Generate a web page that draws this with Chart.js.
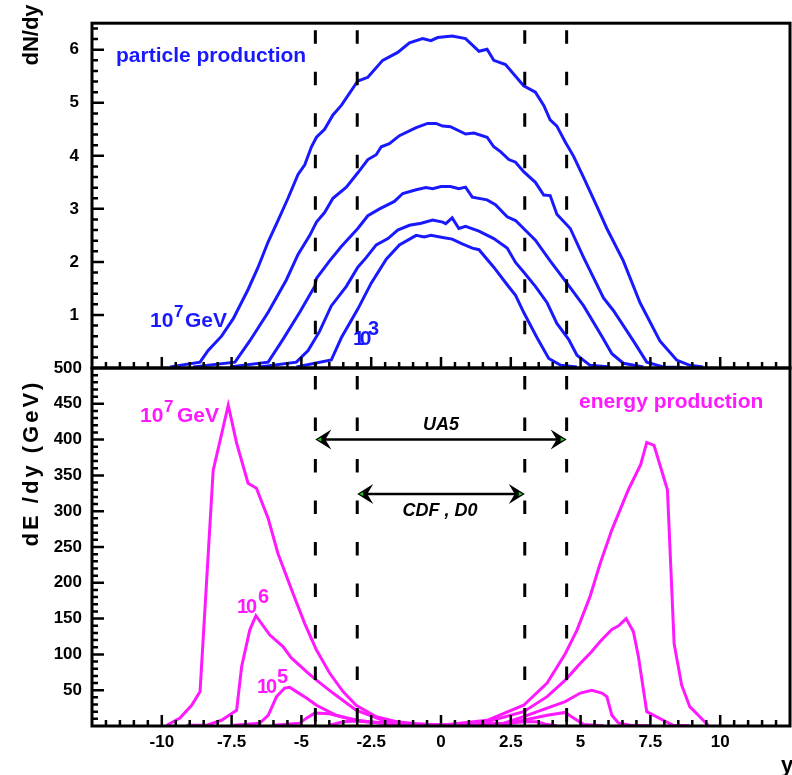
<!DOCTYPE html>
<html lang="en">
<head>
<meta charset="UTF-8">
<title>dN/dy - dE/dy</title>
<script src="https://cdn.jsdelivr.net/npm/chart.js"></script>
<style>
  body { margin: 0; background: #fff; }
  #wrap { position: relative; width: 792px; height: 775px; }
  canvas { position: absolute; left: 0; top: 0; }
</style>
</head>
<body>
<div id="wrap">
  <canvas id="topChart" width="792" height="775"></canvas>
  <canvas id="botChart" width="792" height="775"></canvas>
</div>

<script>
// ---- particle production dN/dy (top panel) ----
const yN7 = [-9.7,-8.63,-8.34,-7.86,-7.44,-6.91,-6.55,-6.19,-5.84,-5.48,-5.12,-4.88,-4.64,-4.46,-4.17,-3.87,-3.57,-2.98,-2.62,-2.09,-1.55,-1.13,-0.66,-0.36,-0.12,0.40,0.88,1.36,1.65,1.89,2.31,2.67,2.96,3.38,3.68,3.91,4.15,4.45,4.75,5.11,5.58,5.94,6.53,7.13,7.84,8.44,8.91,9.39]
const dN7 = [0.02,0.11,0.33,0.60,0.93,1.48,1.90,2.38,2.78,3.20,3.65,3.83,4.17,4.35,4.50,4.77,4.95,5.41,5.48,5.80,5.95,6.13,6.21,6.17,6.23,6.26,6.21,5.97,6.01,5.80,5.72,5.50,5.32,5.20,4.95,4.68,4.56,4.26,3.99,3.59,3.05,2.63,2.02,1.23,0.51,0.15,0.05,0.02]
const yN6 = [-8.87,-7.38,-6.85,-6.19,-5.54,-5.12,-4.70,-4.46,-4.17,-3.87,-3.39,-2.98,-2.62,-2.32,-2.14,-1.85,-1.49,-0.89,-0.48,-0.18,0.06,0.34,0.88,1.18,1.65,1.89,2.13,2.43,2.67,2.96,3.38,3.68,3.91,4.15,4.63,5.11,5.82,6.18,6.89,7.37,7.96,8.68]
const dN6 = [0.02,0.11,0.51,1.05,1.66,2.14,2.50,2.75,2.93,3.20,3.41,3.68,3.93,4.02,4.17,4.23,4.38,4.53,4.61,4.61,4.56,4.55,4.41,4.43,4.35,4.17,4.08,3.93,3.88,3.70,3.50,3.26,3.25,2.90,2.63,2.08,1.32,1.08,0.51,0.11,0.02,0.01]
const yN5 = [-7.56,-6.19,-5.66,-5.06,-4.52,-4.46,-3.99,-3.57,-2.98,-2.62,-2.20,-1.67,-1.37,-0.89,-0.54,-0.30,0.0,0.34,0.64,0.88,1.12,1.65,1.95,2.37,2.67,3.38,3.91,4.51,5.11,5.76,6.12,6.53,7.25]
const dN5 = [0.02,0.11,0.54,1.05,1.54,1.69,2.02,2.29,2.63,2.87,3.00,3.14,3.29,3.36,3.40,3.38,3.42,3.42,3.38,3.41,3.22,3.17,3.08,2.85,2.78,2.41,2.02,1.60,1.17,0.60,0.27,0.09,0.02]
const yN4 = [-6.49,-5.18,-4.76,-4.35,-3.93,-3.39,-2.98,-2.68,-2.32,-1.90,-1.55,-1.13,-0.71,-0.30,0.06,0.17,0.40,0.64,0.88,1.36,1.89,2.37,2.67,2.96,3.38,3.80,4.15,4.57,4.87,5.34,6.06]
const dN4 = [0.02,0.11,0.33,0.69,1.17,1.54,1.90,2.08,2.32,2.44,2.60,2.69,2.73,2.79,2.75,2.72,2.83,2.63,2.67,2.58,2.44,2.26,1.99,1.81,1.54,1.23,0.84,0.54,0.24,0.05,0.02]
const yN3 = [-5.18,-3.93,-3.57,-2.98,-2.50,-1.96,-1.49,-0.89,-0.60,-0.36,0.06,0.40,0.76,1.12,1.36,1.89,2.37,2.67,2.96,3.44,3.86,4.29,4.87]
const dN3 = [0.02,0.15,0.57,1.11,1.60,2.05,2.32,2.50,2.47,2.50,2.46,2.43,2.34,2.26,2.23,1.90,1.57,1.37,1.05,0.57,0.18,0.05,0.02]

// ---- energy production dE/dy in GeV (bottom panel) ----
const yE7 = [-9.82,-9.35,-8.93,-8.63,-8.16,-7.62,-7.32,-6.91,-6.61,-6.19,-5.84,-5.30,-4.88,-4.46,-3.99,-3.51,-3.04,-2.32,-1.37,0,1.65,2.96,3.80,4.45,4.87,5.34,5.70,6.12,6.71,7.15,7.37,7.63,8.11,8.35,8.62,8.91,9.27,9.57]
const dE7 = [1,11,29,48,357,448,395,339,332,290,241,185,143,106,74,48,29,13,4,1,8,29,60,101,134,181,227,274,330,365,396,392,330,115,57,27,13,1]
const yE6 = [-9.11,-8.39,-7.86,-7.32,-7.14,-6.85,-6.63,-6.13,-5.66,-5.36,-4.82,-4.46,-3.87,-3.04,-2.09,-0.89,0.1,1.65,2.96,3.80,4.45,4.93,5.40,5.70,6.12,6.36,6.63,6.89,7.07,7.37,7.96,8.32,8.91]
const dE6 = [1,1,8,22,83,134,154,127,111,95,76,64,46,22,8,3,1,6,20,41,64,85,104,118,135,140,150,132,97,20,8,1,0.5]
const yE5 = [-7.44,-6.49,-6.19,-5.89,-5.60,-5.42,-5.18,-4.82,-4.46,-3.75,-3.04,-2.09,0.1,2.25,2.96,3.80,4.45,4.99,5.40,5.76,5.94,6.12,6.36,6.77,7.49]
const dE5 = [1,4,15,41,53,54,48,39,29,15,8,4,1,4,13,25,34,46,50,46,41,15,4,1,0.5]
const yE4 = [-6.01,-5.06,-4.82,-4.52,-3.99,-3.39,-2.68,-1.49,0.1,2.25,2.96,3.80,4.45,4.75,5.11,5.82]
const dE4 = [1,4,11,18,17,11,6,3,1,3,8,15,19,11,2,0.5]
const yE3 = [-3.99,-3.51,-3.04,-2.32,-0.89,0.1,2.25,2.96,3.44,3.80,4.15]
const dE3 = [1,6,7,5,2,1.5,3,6,6,2,0.5]

// detector acceptance cuts (dashed lines) and arrows
const cuts = [-4.5, -3, 3, 4.5]
const ua5 = [-4.5, 4.5, 400]
const cdf = [-3, 3, 324]
const xTicks = [-10, -7.5, -5, -2.5, 0, 2.5, 5, 7.5, 10]

const blue = 'rgb(25,25,255)'
const magenta = 'rgb(255,25,255)'
const FONT = 'Liberation Sans, Arial, Helvetica, sans-serif'

Chart.defaults.font.family = FONT
Chart.defaults.color = '#000'

const pts = (xs, vs) => xs.map((x, i) => ({ x: x, y: vs[i] }))
const line = (xs, vs, col) => ({
    data: pts(xs, vs), borderColor: col, borderWidth: 3,
    pointRadius: 0, fill: false, tension: 0
})

// draws the inward ticks, the frame and the dashed cut lines
function frame(minorY, majorY, yTop, dashStart) {
    return {
        id: 'frame',
        afterDatasetsDraw(chart) {
            const { ctx, chartArea: a, scales: { x, y } } = chart
            ctx.save()
            ctx.strokeStyle = '#000'
            ctx.lineWidth = 3
            ctx.setLineDash([13.5, 28])
            ctx.lineDashOffset = 41.5 - dashStart
            cuts.forEach(c => {
                const px = x.getPixelForValue(c)
                ctx.beginPath(); ctx.moveTo(px, a.top); ctx.lineTo(px, a.bottom); ctx.stroke()
            })
            ctx.setLineDash([])
            ctx.lineWidth = 2.5
            ctx.beginPath()
            for (let i = -24; i <= 24; i++) {
                const px = x.getPixelForValue(i * 0.5)
                ctx.moveTo(px, a.bottom); ctx.lineTo(px, a.bottom - (i % 5 === 0 ? 11 : 6))
            }
            for (let v = minorY; v < yTop - 1e-6; v += minorY) {
                const py = y.getPixelForValue(v)
                const major = Math.abs(v / majorY - Math.round(v / majorY)) < 1e-6
                ctx.moveTo(a.left, py); ctx.lineTo(a.left + (major ? 12 : 6), py)
            }
            ctx.stroke()
            ctx.lineWidth = 3
            ctx.strokeRect(a.left, a.top, a.right - a.left, a.bottom - a.top)
            ctx.restore()
        }
    }
}

function txt(ctx, s, x, y, size, col, opts) {
    opts = opts || {}
    ctx.font = (opts.italic ? 'italic ' : '') + 'bold ' + size + 'px ' + FONT
    ctx.fillStyle = col
    ctx.textAlign = opts.align || 'left'
    ctx.textBaseline = 'alphabetic'
    ctx.letterSpacing = (opts.ls || 0) + 'px'
    ctx.fillText(s, x, y)
    ctx.letterSpacing = '0px'
}

function arrowHead(ctx, x, y, dir) {
    ctx.fillStyle = '#000'
    ctx.beginPath()
    ctx.moveTo(x, y)
    ctx.lineTo(x + dir * 16, y - 10)
    ctx.lineTo(x + dir * 10, y)
    ctx.lineTo(x + dir * 16, y + 10)
    ctx.closePath(); ctx.fill()
    ctx.fillStyle = '#22cc22'
    ctx.beginPath()
    ctx.moveTo(x + dir * 2, y); ctx.lineTo(x + dir * 6, y - 2); ctx.lineTo(x + dir * 6, y + 2)
    ctx.closePath(); ctx.fill()
}

const topLabels = {
    id: 'topLabels',
    afterDraw(chart) {
        const ctx = chart.ctx
        ctx.save()
        txt(ctx, 'particle production', 116, 62, 21, blue)
        txt(ctx, '10', 150, 327, 21, blue)
        txt(ctx, '7', 174, 317, 17, blue)
        txt(ctx, 'GeV', 185, 327, 21, blue)
        txt(ctx, '10', 353, 345, 21, blue, { ls: -5 })
        txt(ctx, '3', 368, 335, 20, blue)
        ctx.translate(38, 35); ctx.rotate(-Math.PI / 2)
        txt(ctx, 'dN/dy', 0, 0, 22, '#000', { align: 'center' })
        ctx.restore()
    }
}

const botLabels = {
    id: 'botLabels',
    afterDraw(chart) {
        const { ctx, scales: { x, y } } = chart
        ctx.save()
        ctx.strokeStyle = '#000'
        ctx.lineWidth = 2.5
        ;[ua5, cdf].forEach(r => {
            const x1 = x.getPixelForValue(r[0]), x2 = x.getPixelForValue(r[1]), py = y.getPixelForValue(r[2])
            ctx.beginPath(); ctx.moveTo(x1 + 8, py); ctx.lineTo(x2 - 8, py); ctx.stroke()
            arrowHead(ctx, x1, py, 1)
            arrowHead(ctx, x2, py, -1)
        })
        txt(ctx, 'UA5', 441, 430, 18, '#000', { italic: true, align: 'center' })
        txt(ctx, 'CDF , D0', 440, 516, 18, '#000', { italic: true, align: 'center' })
        txt(ctx, 'energy production', 579, 408, 21, magenta)
        txt(ctx, '10', 140, 422, 21, magenta)
        txt(ctx, '7', 164, 412, 17, magenta)
        txt(ctx, 'GeV', 177, 422, 21, magenta)
        txt(ctx, '10', 237, 613, 20, magenta, { ls: -2 })
        txt(ctx, '6', 258, 603, 20, magenta)
        txt(ctx, '10', 257, 693, 20, magenta, { ls: -2 })
        txt(ctx, '5', 277, 683, 20, magenta)
        txt(ctx, 'y', 781, 772, 22, '#000')
        ctx.translate(38, 463); ctx.rotate(-Math.PI / 2)
        txt(ctx, 'dE /dy (GeV)', 0, 0, 22, '#000', { align: 'center', ls: 3 })
        ctx.restore()
    }
}

const tickFont = { size: 17, weight: 'bold' }

new Chart(document.getElementById('topChart'), {
    type: 'line',
    data: {
        datasets: [
            line(yN7, dN7, blue), line(yN6, dN6, blue), line(yN5, dN5, blue),
            line(yN4, dN4, blue), line(yN3, dN3, blue)
        ]
    },
    options: {
        responsive: false, animation: false, devicePixelRatio: 1,
        layout: { padding: { top: 10, right: 2 } },
        plugins: { legend: { display: false }, tooltip: { enabled: false } },
        scales: {
            x: {
                type: 'linear', min: -12.5, max: 12.5,
                ticks: { display: false }, grid: { display: false }, border: { display: false },
                afterFit: s => { s.height = 407 }
            },
            y: {
                min: 0, max: 6.5,
                ticks: {
                    stepSize: 1, padding: 13, font: tickFont,
                    callback: v => (v > 0 && Number.isInteger(v)) ? String(v) : ''
                },
                grid: { display: false, drawTicks: false }, border: { display: false },
                afterFit: s => { s.width = 92 }
            }
        }
    },
    plugins: [frame(0.2, 1, 6.5, 7), topLabels]
})

new Chart(document.getElementById('botChart'), {
    type: 'line',
    data: {
        datasets: [
            line(yE7, dE7, magenta), line(yE6, dE6, magenta), line(yE5, dE5, magenta),
            line(yE4, dE4, magenta), line(yE3, dE3, magenta)
        ]
    },
    options: {
        responsive: false, animation: false, devicePixelRatio: 1,
        layout: { padding: { top: 368, right: 2 } },
        plugins: { legend: { display: false }, tooltip: { enabled: false } },
        scales: {
            x: {
                type: 'linear', min: -12.5, max: 12.5,
                afterBuildTicks: s => { s.ticks = xTicks.map(v => ({ value: v })) },
                ticks: { padding: 6, font: tickFont, autoSkip: false, maxRotation: 0, callback: v => String(v) },
                grid: { display: false, drawTicks: false }, border: { display: false },
                afterFit: s => { s.height = 49 }
            },
            y: {
                min: 0, max: 500,
                ticks: { stepSize: 50, padding: 10, font: tickFont, callback: v => v > 0 ? String(v) : '' },
                grid: { display: false, drawTicks: false }, border: { display: false },
                afterFit: s => { s.width = 92 }
            }
        }
    },
    plugins: [frame(10, 50, 500, 8), botLabels]
})
</script>
</body>
</html>
